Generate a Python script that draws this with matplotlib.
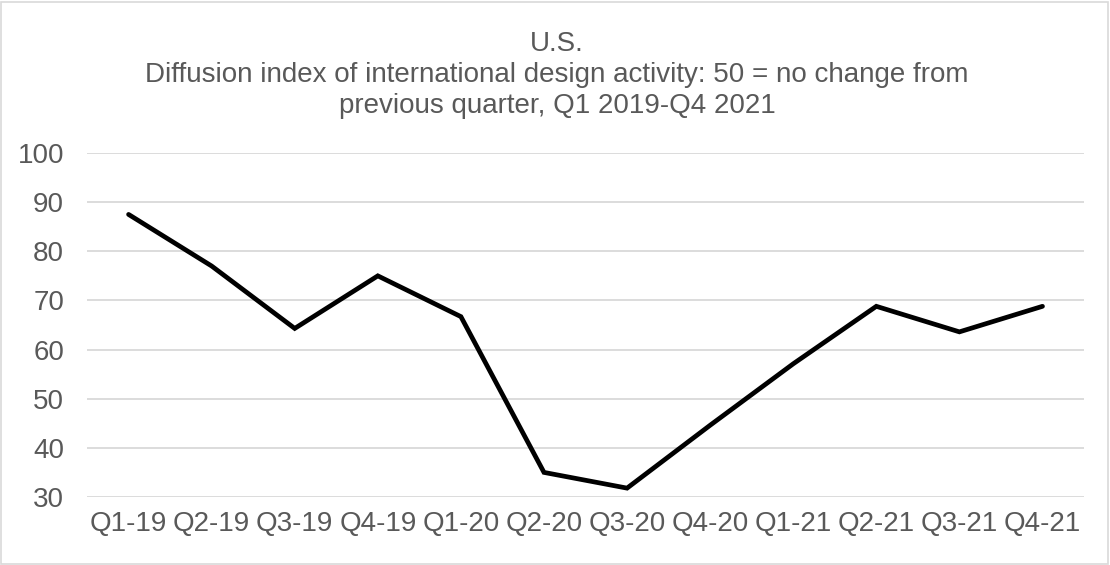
import matplotlib.pyplot as plt
from matplotlib.patches import Rectangle

plt.rcParams['font.family'] = ['Liberation Sans', 'DejaVu Sans']

quarters = ["Q1-19", "Q2-19", "Q3-19", "Q4-19", "Q1-20", "Q2-20",
            "Q3-20", "Q4-20", "Q1-21", "Q2-21", "Q3-21", "Q4-21"]
index_values = [87.5, 77.0, 64.3, 75.0, 66.7, 35.0,
                31.8, 44.6, 57.1, 68.8, 63.6, 68.8]
title_lines = ["U.S.",
               "Diffusion index of international design activity: 50 = no change from",
               "previous quarter, Q1 2019-Q4 2021"]

TEXT_GRAY = "#595959"
GRID_GRAY = "#d9d9d9"

fig = plt.figure(figsize=(11.1, 5.65), dpi=100)
ax = fig.add_axes([0.0784, 0.1204, 0.8982, 0.6088])

x = list(range(len(quarters)))
ax.plot(x, index_values, color="black", linewidth=3.4, solid_joinstyle="miter",
        solid_capstyle="round", zorder=3)

ax.set_xlim(-0.5, len(quarters) - 0.5)
ax.set_ylim(30, 100)
ax.set_yticks(range(30, 101, 10))
ax.set_xticks(x)
ax.set_xticklabels(quarters)
ax.tick_params(axis="both", length=0, labelsize=20, labelcolor=TEXT_GRAY)
ax.tick_params(axis="y", pad=16.5)
ax.tick_params(axis="x", pad=10)
ax.grid(axis="y", color=GRID_GRAY, linewidth=1.3)
ax.set_axisbelow(True)
for s in ax.spines.values():
    s.set_visible(False)

# title, three centred lines
for i, line in enumerate(title_lines):
    fig.text(0.502, 1 - (44 + 31 * i) / 565, line, ha="center", va="center",
             fontsize=20, color=TEXT_GRAY)

# light border round the chart
fig.patches.append(Rectangle((0.001, 0.002), 0.997, 0.995, transform=fig.transFigure,
                             fill=False, edgecolor=GRID_GRAY, linewidth=1.2))

fig.savefig("out.png", dpi=100)
